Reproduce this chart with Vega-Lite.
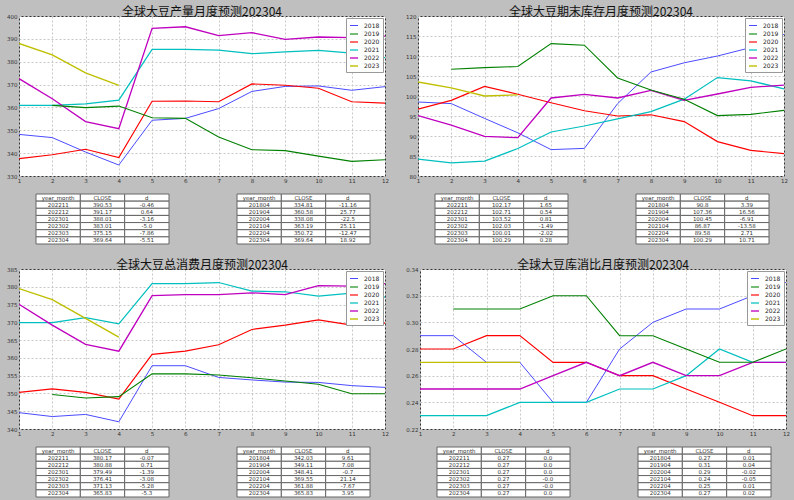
{
"$schema": "https://vega.github.io/schema/vega-lite/v6.json",
"background": "#bfbfbf",
"padding": {"left": 6, "top": 5, "right": 10, "bottom": 10},
"spacing": 13,
"resolve": {"scale": {"color": "independent", "strokeWidth": "independent"}, "legend": {"color": "independent", "strokeWidth": "independent"}},
"config": {
  "font": "DejaVu Sans",
  "view": {"stroke": "#333", "fill": "white"},
  "axis": {"labelFontSize": 5.5, "labelColor": "#333", "ticks": false, "domain": false, "grid": true, "gridColor": "#c8c8c8", "gridDash": [2, 2], "labelPadding": 2, "title": null, "labelFlush": false},
  "title": {"font": "Noto Sans CJK SC", "fontSize": 12, "fontWeight": "normal", "color": "#111", "offset": -5, "anchor": "middle", "frame": "group"},
  "legend": {"orient": "top-right", "offset": 2, "fillColor": "white", "strokeColor": "#999", "padding": 3, "labelFontSize": 6, "labelColor": "#222", "symbolType": "stroke", "symbolSize": 64, "labelOffset": 5, "rowPadding": 0, "title": null}
},
"datasets": {
  "p1": [
    {"month": 1, "2018": 348.2, "2019": null, "2020": 337.6, "2021": 360.9, "2022": 372.6, "2023": 388.01},
    {"month": 2, "2018": 346.8, "2019": 360.9, "2020": 339.3, "2021": 360.9, "2022": 363.8, "2023": 383.01},
    {"month": 3, "2018": 340.5, "2019": 359.9, "2020": 341.7, "2021": 361.6, "2022": 353.8, "2023": 375.15},
    {"month": 4, "2018": 334.81, "2019": 360.58, "2020": 338.08, "2021": 363.19, "2022": 350.72, "2023": 369.64},
    {"month": 5, "2018": 354.4, "2019": 355.5, "2020": 362.7, "2021": 385.4, "2022": 394.6, "2023": null},
    {"month": 6, "2018": 355.2, "2019": 355.2, "2020": 362.8, "2021": 385.4, "2022": 395.3, "2023": null},
    {"month": 7, "2018": 359.5, "2019": 347.1, "2020": 362.5, "2021": 385.1, "2022": 391.4, "2023": null},
    {"month": 8, "2018": 367.0, "2019": 341.5, "2020": 370.3, "2021": 383.5, "2022": 392.7, "2023": null},
    {"month": 9, "2018": 369.2, "2019": 341.1, "2020": 369.7, "2021": 384.3, "2022": 389.8, "2023": null},
    {"month": 10, "2018": 369.4, "2019": 338.7, "2020": 368.4, "2021": 385.0, "2022": 390.8, "2023": null},
    {"month": 11, "2018": 367.5, "2019": 336.4, "2020": 362.5, "2021": 383.8, "2022": 390.53, "2023": null},
    {"month": 12, "2018": 369.1, "2019": 337.1, "2020": 361.9, "2021": 381.8, "2022": 391.17, "2023": null}
  ],
  "p2": [
    {"month": 1, "2018": 98.5, "2019": null, "2020": 96.7, "2021": 84.2, "2022": 95.1, "2023": 103.52},
    {"month": 2, "2018": 98.1, "2019": 106.7, "2020": 98.9, "2021": 83.3, "2022": 92.7, "2023": 102.03},
    {"month": 3, "2018": 94.4, "2019": 107.1, "2020": 102.4, "2021": 83.7, "2022": 89.9, "2023": 100.01},
    {"month": 4, "2018": 90.8, "2019": 107.36, "2020": 100.45, "2021": 86.87, "2022": 89.58, "2023": 100.29},
    {"month": 5, "2018": 86.6, "2019": 113.1, "2020": 98.3, "2021": 91.0, "2022": 99.5, "2023": null},
    {"month": 6, "2018": 86.9, "2019": 112.7, "2020": 96.3, "2021": 92.5, "2022": 100.4, "2023": null},
    {"month": 7, "2018": 98.1, "2019": 104.5, "2020": 95.0, "2021": 94.3, "2022": 99.5, "2023": null},
    {"month": 8, "2018": 106.0, "2019": 101.5, "2020": 95.3, "2021": 96.1, "2022": 101.4, "2023": null},
    {"month": 9, "2018": 108.3, "2019": 99.2, "2020": 93.6, "2021": 99.2, "2022": 98.9, "2023": null},
    {"month": 10, "2018": 110.0, "2019": 95.1, "2020": 88.6, "2021": 104.6, "2022": 100.5, "2023": null},
    {"month": 11, "2018": 112.1, "2019": 95.4, "2020": 86.4, "2021": 103.8, "2022": 102.17, "2023": null},
    {"month": 12, "2018": 115.4, "2019": 96.4, "2020": 85.6, "2021": 101.8, "2022": 102.71, "2023": null}
  ],
  "p3": [
    {"month": 1, "2018": 344.6, "2019": null, "2020": 350.3, "2021": 369.9, "2022": 375.1, "2023": 379.49},
    {"month": 2, "2018": 343.5, "2019": 349.7, "2020": 351.3, "2021": 369.9, "2022": 369.2, "2023": 376.41},
    {"month": 3, "2018": 344.1, "2019": 348.7, "2020": 350.3, "2021": 371.3, "2022": 363.8, "2023": 371.13},
    {"month": 4, "2018": 342.03, "2019": 349.11, "2020": 348.41, "2021": 369.55, "2022": 361.88, "2023": 365.83},
    {"month": 5, "2018": 357.8, "2019": 355.5, "2020": 361.0, "2021": 380.9, "2022": 377.5, "2023": null},
    {"month": 6, "2018": 357.8, "2019": 355.5, "2020": 361.9, "2021": 380.9, "2022": 377.8, "2023": null},
    {"month": 7, "2018": 354.5, "2019": 355.2, "2020": 363.7, "2021": 381.2, "2022": 377.8, "2023": null},
    {"month": 8, "2018": 353.8, "2019": 354.4, "2020": 368.0, "2021": 378.8, "2022": 378.3, "2023": null},
    {"month": 9, "2018": 353.2, "2019": 353.5, "2020": 369.2, "2021": 378.6, "2022": 377.8, "2023": null},
    {"month": 10, "2018": 353.1, "2019": 352.6, "2020": 370.7, "2021": 377.4, "2022": 380.3, "2023": null},
    {"month": 11, "2018": 352.2, "2019": 349.9, "2020": 369.2, "2021": 378.2, "2022": 380.17, "2023": null},
    {"month": 12, "2018": 351.7, "2019": 349.9, "2020": 369.8, "2021": 377.1, "2022": 380.88, "2023": null}
  ],
  "p4": [
    {"month": 1, "2018": 0.29, "2019": null, "2020": 0.28, "2021": 0.23, "2022": 0.25, "2023": 0.27},
    {"month": 2, "2018": 0.29, "2019": 0.31, "2020": 0.28, "2021": 0.23, "2022": 0.25, "2023": 0.27},
    {"month": 3, "2018": 0.27, "2019": 0.31, "2020": 0.29, "2021": 0.23, "2022": 0.25, "2023": 0.27},
    {"month": 4, "2018": 0.27, "2019": 0.31, "2020": 0.29, "2021": 0.24, "2022": 0.25, "2023": 0.27},
    {"month": 5, "2018": 0.24, "2019": 0.32, "2020": 0.27, "2021": 0.24, "2022": 0.26, "2023": null},
    {"month": 6, "2018": 0.24, "2019": 0.32, "2020": 0.27, "2021": 0.24, "2022": 0.27, "2023": null},
    {"month": 7, "2018": 0.28, "2019": 0.29, "2020": 0.26, "2021": 0.25, "2022": 0.26, "2023": null},
    {"month": 8, "2018": 0.30, "2019": 0.29, "2020": 0.26, "2021": 0.25, "2022": 0.27, "2023": null},
    {"month": 9, "2018": 0.31, "2019": 0.28, "2020": 0.25, "2021": 0.26, "2022": 0.26, "2023": null},
    {"month": 10, "2018": 0.31, "2019": 0.27, "2020": 0.24, "2021": 0.28, "2022": 0.26, "2023": null},
    {"month": 11, "2018": 0.32, "2019": 0.27, "2020": 0.23, "2021": 0.27, "2022": 0.27, "2023": null},
    {"month": 12, "2018": 0.33, "2019": 0.28, "2020": 0.23, "2021": 0.27, "2022": 0.27, "2023": null}
  ],
  "t1L": [
    {"year_month": "year_month", "CLOSE": "CLOSE", "d": "d"},
    {"year_month": "202211", "CLOSE": "390.53", "d": "-0.46"},
    {"year_month": "202212", "CLOSE": "391.17", "d": "0.64"},
    {"year_month": "202301", "CLOSE": "388.01", "d": "-3.16"},
    {"year_month": "202302", "CLOSE": "383.01", "d": "-5.0"},
    {"year_month": "202303", "CLOSE": "375.15", "d": "-7.86"},
    {"year_month": "202304", "CLOSE": "369.64", "d": "-5.51"}
  ],
  "t1R": [
    {"year_month": "year_month", "CLOSE": "CLOSE", "d": "d"},
    {"year_month": "201804", "CLOSE": "334.81", "d": "-11.16"},
    {"year_month": "201904", "CLOSE": "360.58", "d": "25.77"},
    {"year_month": "202004", "CLOSE": "338.08", "d": "-22.5"},
    {"year_month": "202104", "CLOSE": "363.19", "d": "25.11"},
    {"year_month": "202204", "CLOSE": "350.72", "d": "-12.47"},
    {"year_month": "202304", "CLOSE": "369.64", "d": "18.92"}
  ],
  "t2L": [
    {"year_month": "year_month", "CLOSE": "CLOSE", "d": "d"},
    {"year_month": "202211", "CLOSE": "102.17", "d": "1.65"},
    {"year_month": "202212", "CLOSE": "102.71", "d": "0.54"},
    {"year_month": "202301", "CLOSE": "103.52", "d": "0.81"},
    {"year_month": "202302", "CLOSE": "102.03", "d": "-1.49"},
    {"year_month": "202303", "CLOSE": "100.01", "d": "-2.02"},
    {"year_month": "202304", "CLOSE": "100.29", "d": "0.28"}
  ],
  "t2R": [
    {"year_month": "year_month", "CLOSE": "CLOSE", "d": "d"},
    {"year_month": "201804", "CLOSE": "90.8", "d": "3.39"},
    {"year_month": "201904", "CLOSE": "107.36", "d": "16.56"},
    {"year_month": "202004", "CLOSE": "100.45", "d": "-6.91"},
    {"year_month": "202104", "CLOSE": "86.87", "d": "-13.58"},
    {"year_month": "202204", "CLOSE": "89.58", "d": "2.71"},
    {"year_month": "202304", "CLOSE": "100.29", "d": "10.71"}
  ],
  "t3L": [
    {"year_month": "year_month", "CLOSE": "CLOSE", "d": "d"},
    {"year_month": "202211", "CLOSE": "380.17", "d": "-0.07"},
    {"year_month": "202212", "CLOSE": "380.88", "d": "0.71"},
    {"year_month": "202301", "CLOSE": "379.49", "d": "-1.39"},
    {"year_month": "202302", "CLOSE": "376.41", "d": "-3.08"},
    {"year_month": "202303", "CLOSE": "371.13", "d": "-5.28"},
    {"year_month": "202304", "CLOSE": "365.83", "d": "-5.3"}
  ],
  "t3R": [
    {"year_month": "year_month", "CLOSE": "CLOSE", "d": "d"},
    {"year_month": "201804", "CLOSE": "342.03", "d": "9.61"},
    {"year_month": "201904", "CLOSE": "349.11", "d": "7.08"},
    {"year_month": "202004", "CLOSE": "348.41", "d": "-0.7"},
    {"year_month": "202104", "CLOSE": "369.55", "d": "21.14"},
    {"year_month": "202204", "CLOSE": "361.88", "d": "-7.67"},
    {"year_month": "202304", "CLOSE": "365.83", "d": "3.95"}
  ],
  "t4L": [
    {"year_month": "year_month", "CLOSE": "CLOSE", "d": "d"},
    {"year_month": "202211", "CLOSE": "0.27", "d": "0.0"},
    {"year_month": "202212", "CLOSE": "0.27", "d": "0.0"},
    {"year_month": "202301", "CLOSE": "0.27", "d": "0.0"},
    {"year_month": "202302", "CLOSE": "0.27", "d": "-0.0"},
    {"year_month": "202303", "CLOSE": "0.27", "d": "-0.0"},
    {"year_month": "202304", "CLOSE": "0.27", "d": "0.0"}
  ],
  "t4R": [
    {"year_month": "year_month", "CLOSE": "CLOSE", "d": "d"},
    {"year_month": "201804", "CLOSE": "0.27", "d": "0.01"},
    {"year_month": "201904", "CLOSE": "0.31", "d": "0.04"},
    {"year_month": "202004", "CLOSE": "0.29", "d": "-0.02"},
    {"year_month": "202104", "CLOSE": "0.24", "d": "-0.05"},
    {"year_month": "202204", "CLOSE": "0.25", "d": "0.01"},
    {"year_month": "202304", "CLOSE": "0.27", "d": "0.02"}
  ]
},
"vconcat": [
  {"hconcat": [
    {"vconcat": [
      {"width": 366, "height": 160, "title": "全球大豆产量月度预测202304", "data": {"name": "p1"},
       "transform": [{"fold": ["2018", "2019", "2020", "2021", "2022", "2023"], "as": ["year", "value"]}, {"filter": "datum.value != null"}],
       "mark": {"type": "line", "clip": true},
       "encoding": {
         "x": {"field": "month", "type": "quantitative", "scale": {"domain": [1, 12], "nice": false, "zero": false}, "axis": {"values": [1,2,3,4,5,6,7,8,9,10,11,12], "format": "d"}},
         "y": {"field": "value", "type": "quantitative", "scale": {"domain": [330, 400], "nice": false, "zero": false}, "axis": {"values": [330,340,350,360,370,380,390,400], "format": "d"}},
         "color": {"field": "year", "type": "ordinal", "scale": {"domain": ["2018","2019","2020","2021","2022","2023"], "range": ["#4b4bff","#008000","#ff0000","#00bfbf","#bf00bf","#bfbf00"]}, "legend": {"title": null, "orient": "top-right"}},
         "strokeWidth": {"field": "year", "type": "ordinal", "scale": {"domain": ["2018","2019","2020","2021","2022","2023"], "range": [1, 1.4, 2, 2.4, 3.2, 4]}, "legend": {"title": null, "orient": "top-right"}}
       }},
      {"hconcat": [
        {"width": 16, "height": 50, "view": {"stroke": null, "fill": null}, "data": {"values": []}, "mark": "point"},
        {"width": 133, "height": 50, "view": {"stroke": null, "fill": null}, "data": {"name": "t1L"},
         "transform": [{"fold": ["year_month", "CLOSE", "d"], "as": ["col", "val"]}],
         "encoding": {"x": {"field": "col", "type": "nominal", "sort": ["year_month", "CLOSE", "d"], "scale": {"paddingInner": 0, "paddingOuter": 0}, "axis": null},
                      "y": {"field": "year_month", "type": "ordinal", "sort": null, "scale": {"paddingInner": 0, "paddingOuter": 0}, "axis": null}},
         "layer": [{"mark": {"type": "rect", "fill": "white", "stroke": "#666", "strokeWidth": 1}},
                   {"mark": {"type": "text", "fontSize": 5.5, "color": "#333"}, "encoding": {"text": {"field": "val"}}}]},
        {"width": 66, "height": 50, "view": {"stroke": null, "fill": null}, "data": {"values": []}, "mark": "point"},
        {"width": 133, "height": 50, "view": {"stroke": null, "fill": null}, "data": {"name": "t1R"},
         "transform": [{"fold": ["year_month", "CLOSE", "d"], "as": ["col", "val"]}],
         "encoding": {"x": {"field": "col", "type": "nominal", "sort": ["year_month", "CLOSE", "d"], "scale": {"paddingInner": 0, "paddingOuter": 0}, "axis": null},
                      "y": {"field": "year_month", "type": "ordinal", "sort": null, "scale": {"paddingInner": 0, "paddingOuter": 0}, "axis": null}},
         "layer": [{"mark": {"type": "rect", "fill": "white", "stroke": "#666", "strokeWidth": 1}},
                   {"mark": {"type": "text", "fontSize": 5.5, "color": "#333"}, "encoding": {"text": {"field": "val"}}}]}
      ], "spacing": 0}
    ], "spacing": 9, "resolve": {"scale": {"color": "independent", "strokeWidth": "independent"}, "legend": {"color": "independent", "strokeWidth": "independent"}}},
    {"vconcat": [
      {"width": 366, "height": 160, "title": "全球大豆期末库存月度预测202304", "data": {"name": "p2"},
       "transform": [{"fold": ["2018", "2019", "2020", "2021", "2022", "2023"], "as": ["year", "value"]}, {"filter": "datum.value != null"}],
       "mark": {"type": "line", "clip": true},
       "encoding": {
         "x": {"field": "month", "type": "quantitative", "scale": {"domain": [1, 12], "nice": false, "zero": false}, "axis": {"values": [1,2,3,4,5,6,7,8,9,10,11,12], "format": "d"}},
         "y": {"field": "value", "type": "quantitative", "scale": {"domain": [80, 120], "nice": false, "zero": false}, "axis": {"values": [80,85,90,95,100,105,110,115,120], "format": "d"}},
         "color": {"field": "year", "type": "ordinal", "scale": {"domain": ["2018","2019","2020","2021","2022","2023"], "range": ["#4b4bff","#008000","#ff0000","#00bfbf","#bf00bf","#bfbf00"]}, "legend": {"title": null, "orient": "top-right"}},
         "strokeWidth": {"field": "year", "type": "ordinal", "scale": {"domain": ["2018","2019","2020","2021","2022","2023"], "range": [1, 1.4, 2, 2.4, 3.2, 4]}, "legend": {"title": null, "orient": "top-right"}}
       }},
      {"hconcat": [
        {"width": 16, "height": 50, "view": {"stroke": null, "fill": null}, "data": {"values": []}, "mark": "point"},
        {"width": 133, "height": 50, "view": {"stroke": null, "fill": null}, "data": {"name": "t2L"},
         "transform": [{"fold": ["year_month", "CLOSE", "d"], "as": ["col", "val"]}],
         "encoding": {"x": {"field": "col", "type": "nominal", "sort": ["year_month", "CLOSE", "d"], "scale": {"paddingInner": 0, "paddingOuter": 0}, "axis": null},
                      "y": {"field": "year_month", "type": "ordinal", "sort": null, "scale": {"paddingInner": 0, "paddingOuter": 0}, "axis": null}},
         "layer": [{"mark": {"type": "rect", "fill": "white", "stroke": "#666", "strokeWidth": 1}},
                   {"mark": {"type": "text", "fontSize": 5.5, "color": "#333"}, "encoding": {"text": {"field": "val"}}}]},
        {"width": 66, "height": 50, "view": {"stroke": null, "fill": null}, "data": {"values": []}, "mark": "point"},
        {"width": 133, "height": 50, "view": {"stroke": null, "fill": null}, "data": {"name": "t2R"},
         "transform": [{"fold": ["year_month", "CLOSE", "d"], "as": ["col", "val"]}],
         "encoding": {"x": {"field": "col", "type": "nominal", "sort": ["year_month", "CLOSE", "d"], "scale": {"paddingInner": 0, "paddingOuter": 0}, "axis": null},
                      "y": {"field": "year_month", "type": "ordinal", "sort": null, "scale": {"paddingInner": 0, "paddingOuter": 0}, "axis": null}},
         "layer": [{"mark": {"type": "rect", "fill": "white", "stroke": "#666", "strokeWidth": 1}},
                   {"mark": {"type": "text", "fontSize": 5.5, "color": "#333"}, "encoding": {"text": {"field": "val"}}}]}
      ], "spacing": 0}
    ], "spacing": 9, "resolve": {"scale": {"color": "independent", "strokeWidth": "independent"}, "legend": {"color": "independent", "strokeWidth": "independent"}}}
  ], "spacing": 16, "resolve": {"scale": {"color": "independent", "strokeWidth": "independent"}, "legend": {"color": "independent", "strokeWidth": "independent"}}},
  {"hconcat": [
    {"vconcat": [
      {"width": 366, "height": 160, "title": "全球大豆总消费月度预测202304", "data": {"name": "p3"},
       "transform": [{"fold": ["2018", "2019", "2020", "2021", "2022", "2023"], "as": ["year", "value"]}, {"filter": "datum.value != null"}],
       "mark": {"type": "line", "clip": true},
       "encoding": {
         "x": {"field": "month", "type": "quantitative", "scale": {"domain": [1, 12], "nice": false, "zero": false}, "axis": {"values": [1,2,3,4,5,6,7,8,9,10,11,12], "format": "d"}},
         "y": {"field": "value", "type": "quantitative", "scale": {"domain": [340, 385], "nice": false, "zero": false}, "axis": {"values": [340,345,350,355,360,365,370,375,380,385], "format": "d"}},
         "color": {"field": "year", "type": "ordinal", "scale": {"domain": ["2018","2019","2020","2021","2022","2023"], "range": ["#4b4bff","#008000","#ff0000","#00bfbf","#bf00bf","#bfbf00"]}, "legend": {"title": null, "orient": "top-right"}},
         "strokeWidth": {"field": "year", "type": "ordinal", "scale": {"domain": ["2018","2019","2020","2021","2022","2023"], "range": [1, 1.4, 2, 2.4, 3.2, 4]}, "legend": {"title": null, "orient": "top-right"}}
       }},
      {"hconcat": [
        {"width": 16, "height": 50, "view": {"stroke": null, "fill": null}, "data": {"values": []}, "mark": "point"},
        {"width": 133, "height": 50, "view": {"stroke": null, "fill": null}, "data": {"name": "t3L"},
         "transform": [{"fold": ["year_month", "CLOSE", "d"], "as": ["col", "val"]}],
         "encoding": {"x": {"field": "col", "type": "nominal", "sort": ["year_month", "CLOSE", "d"], "scale": {"paddingInner": 0, "paddingOuter": 0}, "axis": null},
                      "y": {"field": "year_month", "type": "ordinal", "sort": null, "scale": {"paddingInner": 0, "paddingOuter": 0}, "axis": null}},
         "layer": [{"mark": {"type": "rect", "fill": "white", "stroke": "#666", "strokeWidth": 1}},
                   {"mark": {"type": "text", "fontSize": 5.5, "color": "#333"}, "encoding": {"text": {"field": "val"}}}]},
        {"width": 66, "height": 50, "view": {"stroke": null, "fill": null}, "data": {"values": []}, "mark": "point"},
        {"width": 133, "height": 50, "view": {"stroke": null, "fill": null}, "data": {"name": "t3R"},
         "transform": [{"fold": ["year_month", "CLOSE", "d"], "as": ["col", "val"]}],
         "encoding": {"x": {"field": "col", "type": "nominal", "sort": ["year_month", "CLOSE", "d"], "scale": {"paddingInner": 0, "paddingOuter": 0}, "axis": null},
                      "y": {"field": "year_month", "type": "ordinal", "sort": null, "scale": {"paddingInner": 0, "paddingOuter": 0}, "axis": null}},
         "layer": [{"mark": {"type": "rect", "fill": "white", "stroke": "#666", "strokeWidth": 1}},
                   {"mark": {"type": "text", "fontSize": 5.5, "color": "#333"}, "encoding": {"text": {"field": "val"}}}]}
      ], "spacing": 0}
    ], "spacing": 9, "resolve": {"scale": {"color": "independent", "strokeWidth": "independent"}, "legend": {"color": "independent", "strokeWidth": "independent"}}},
    {"vconcat": [
      {"width": 366, "height": 160, "title": "全球大豆库消比月度预测202304", "data": {"name": "p4"},
       "transform": [{"fold": ["2018", "2019", "2020", "2021", "2022", "2023"], "as": ["year", "value"]}, {"filter": "datum.value != null"}],
       "mark": {"type": "line", "clip": true},
       "encoding": {
         "x": {"field": "month", "type": "quantitative", "scale": {"domain": [1, 12], "nice": false, "zero": false}, "axis": {"values": [1,2,3,4,5,6,7,8,9,10,11,12], "format": "d"}},
         "y": {"field": "value", "type": "quantitative", "scale": {"domain": [0.22, 0.34], "nice": false, "zero": false}, "axis": {"values": [0.22,0.24,0.26,0.28,0.30,0.32,0.34], "format": ".2f"}},
         "color": {"field": "year", "type": "ordinal", "scale": {"domain": ["2018","2019","2020","2021","2022","2023"], "range": ["#4b4bff","#008000","#ff0000","#00bfbf","#bf00bf","#bfbf00"]}, "legend": {"title": null, "orient": "top-right"}},
         "strokeWidth": {"field": "year", "type": "ordinal", "scale": {"domain": ["2018","2019","2020","2021","2022","2023"], "range": [1, 1.4, 2, 2.4, 3.2, 4]}, "legend": {"title": null, "orient": "top-right"}}
       }},
      {"hconcat": [
        {"width": 16, "height": 50, "view": {"stroke": null, "fill": null}, "data": {"values": []}, "mark": "point"},
        {"width": 133, "height": 50, "view": {"stroke": null, "fill": null}, "data": {"name": "t4L"},
         "transform": [{"fold": ["year_month", "CLOSE", "d"], "as": ["col", "val"]}],
         "encoding": {"x": {"field": "col", "type": "nominal", "sort": ["year_month", "CLOSE", "d"], "scale": {"paddingInner": 0, "paddingOuter": 0}, "axis": null},
                      "y": {"field": "year_month", "type": "ordinal", "sort": null, "scale": {"paddingInner": 0, "paddingOuter": 0}, "axis": null}},
         "layer": [{"mark": {"type": "rect", "fill": "white", "stroke": "#666", "strokeWidth": 1}},
                   {"mark": {"type": "text", "fontSize": 5.5, "color": "#333"}, "encoding": {"text": {"field": "val"}}}]},
        {"width": 66, "height": 50, "view": {"stroke": null, "fill": null}, "data": {"values": []}, "mark": "point"},
        {"width": 133, "height": 50, "view": {"stroke": null, "fill": null}, "data": {"name": "t4R"},
         "transform": [{"fold": ["year_month", "CLOSE", "d"], "as": ["col", "val"]}],
         "encoding": {"x": {"field": "col", "type": "nominal", "sort": ["year_month", "CLOSE", "d"], "scale": {"paddingInner": 0, "paddingOuter": 0}, "axis": null},
                      "y": {"field": "year_month", "type": "ordinal", "sort": null, "scale": {"paddingInner": 0, "paddingOuter": 0}, "axis": null}},
         "layer": [{"mark": {"type": "rect", "fill": "white", "stroke": "#666", "strokeWidth": 1}},
                   {"mark": {"type": "text", "fontSize": 5.5, "color": "#333"}, "encoding": {"text": {"field": "val"}}}]}
      ], "spacing": 0}
    ], "spacing": 9, "resolve": {"scale": {"color": "independent", "strokeWidth": "independent"}, "legend": {"color": "independent", "strokeWidth": "independent"}}}
  ], "spacing": 16, "resolve": {"scale": {"color": "independent", "strokeWidth": "independent"}, "legend": {"color": "independent", "strokeWidth": "independent"}}}
]
}
